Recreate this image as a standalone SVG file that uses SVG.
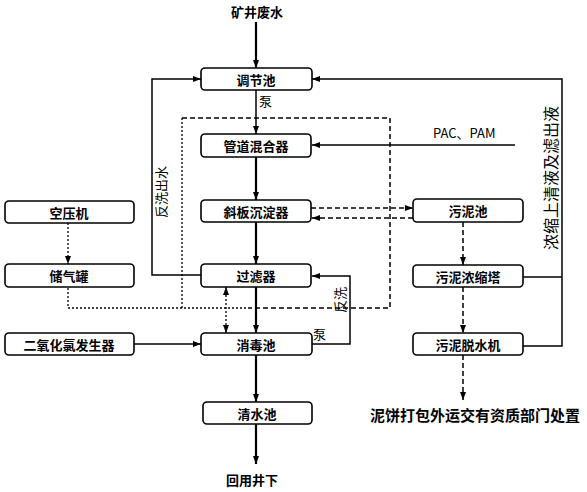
<svg xmlns="http://www.w3.org/2000/svg" width="587" height="492" viewBox="0 0 587 492">
<defs>
<marker id="ah" viewBox="0 0 8 6" refX="8" refY="3" markerWidth="8" markerHeight="6" markerUnits="userSpaceOnUse" orient="auto-start-reverse">
<path d="M0,0 L8,3 L0,6 z" fill="#000"/>
</marker>
<style>
.box{fill:#fff;stroke:#000;stroke-width:1.6}
.lbl{font-family:"Noto Sans CJK SC","Noto Sans",sans-serif;font-size:13px;font-weight:bold;text-anchor:middle;dominant-baseline:central;fill:#000}
.txt{font-family:"Noto Sans CJK SC","Noto Sans",sans-serif;font-size:13px;fill:#000}
.thick{fill:none;stroke:#000;stroke-width:2.2}
.solid{fill:none;stroke:#000;stroke-width:1.5}
.dash{fill:none;stroke:#000;stroke-width:1.5;stroke-dasharray:5,3}
.dot{fill:none;stroke:#000;stroke-width:1.3;stroke-dasharray:2,2}
</style>
</defs>
<rect width="587" height="492" fill="#fff"/>

<g id="connectors">
<line class="thick" x1="256" y1="22" x2="256" y2="68" marker-end="url(#ah)"/>
<line class="solid" x1="256" y1="90" x2="256" y2="134" marker-end="url(#ah)"/>
<line class="thick" x1="256" y1="157" x2="256" y2="200" marker-end="url(#ah)"/>
<line class="thick" x1="256" y1="222" x2="256" y2="264" marker-end="url(#ah)"/>
<line class="thick" x1="256" y1="287" x2="256" y2="333" marker-end="url(#ah)"/>
<line class="thick" x1="256" y1="355" x2="256" y2="402" marker-end="url(#ah)"/>
<line class="thick" x1="256" y1="424" x2="256" y2="464" marker-end="url(#ah)"/>
<polyline class="solid" points="201,275 152,275 152,79 201,79" marker-end="url(#ah)"/>
<polyline class="solid" points="523,277 562,277"/>
<polyline class="solid" points="523,346 562,346 562,79 312,79" marker-end="url(#ah)"/>
<line class="solid" x1="515" y1="145" x2="312" y2="145" marker-end="url(#ah)"/>
<line class="dash" x1="311" y1="208" x2="413" y2="208" marker-end="url(#ah)"/>
<line class="dash" x1="413" y1="218" x2="312" y2="218" marker-end="url(#ah)"/>
<polyline class="dash" points="182,118 390,118 390,308 250,308"/>
<polyline class="dot" points="250,308 68,308 68,287"/>
<line class="dot" x1="182" y1="118" x2="182" y2="308"/>
<line class="dot" x1="68" y1="223" x2="68" y2="264" marker-end="url(#ah)"/>
<line class="dot" x1="226" y1="287" x2="226" y2="333" marker-start="url(#ah)" marker-end="url(#ah)"/>
<line class="solid" x1="134" y1="344" x2="201" y2="344" marker-end="url(#ah)"/>
<polyline class="solid" points="312,344 350,344 350,276 312,276" marker-end="url(#ah)"/>
<line class="dash" x1="463" y1="222" x2="463" y2="265" marker-end="url(#ah)"/>
<line class="dash" x1="463" y1="287" x2="463" y2="333" marker-end="url(#ah)"/>
<line class="dash" x1="463" y1="355" x2="463" y2="400" marker-end="url(#ah)"/>
</g>

<g id="labels">
<text class="txt" x="257" y="17" text-anchor="middle" style="font-weight:bold">矿井废水</text>
<text class="txt" x="259" y="106">泵</text>
<text class="txt" x="433" y="138">PAC、PAM</text>
<text class="txt" transform="translate(166,192) rotate(-90)" text-anchor="middle">反洗出水</text>
<text class="txt" transform="translate(557,178) rotate(-90)" text-anchor="middle" style="font-size:16px">浓缩上清液及滤出液</text>
<text class="txt" x="313" y="339">泵</text>
<text class="txt" transform="translate(345,300) rotate(-90)" text-anchor="middle">反洗</text>
<text class="txt" x="475" y="421" text-anchor="middle" style="font-size:15px;font-weight:bold">泥饼打包外运交有资质部门处置</text>
<text class="txt" x="252" y="485" text-anchor="middle" style="font-weight:bold">回用井下</text>
</g>

<g id="n-tiaojie"><rect class="box" x="201" y="68" width="111" height="22" rx="4"/><text class="lbl" x="256" y="79">调节池</text></g>
<g id="n-guandao"><rect class="box" x="201" y="134" width="110" height="23" rx="4"/><text class="lbl" x="256" y="145.5">管道混合器</text></g>
<g id="n-xieban"><rect class="box" x="201" y="200" width="110" height="22" rx="4"/><text class="lbl" x="256" y="211">斜板沉淀器</text></g>
<g id="n-guolv"><rect class="box" x="201" y="264" width="110" height="23" rx="4"/><text class="lbl" x="256" y="275.5">过滤器</text></g>
<g id="n-xiaodu"><rect class="box" x="201" y="333" width="111" height="22" rx="4"/><text class="lbl" x="256" y="344">消毒池</text></g>
<g id="n-qingshui"><rect class="box" x="203" y="402" width="109" height="22" rx="4"/><text class="lbl" x="257" y="413">清水池</text></g>
<g id="n-kongya"><rect class="box" x="5" y="201" width="129" height="22" rx="4"/><text class="lbl" x="69" y="212">空压机</text></g>
<g id="n-chuqi"><rect class="box" x="5" y="264" width="129" height="23" rx="4"/><text class="lbl" x="69" y="275.5">储气罐</text></g>
<g id="n-clo2"><rect class="box" x="5" y="333" width="129" height="22" rx="4"/><text class="lbl" x="69" y="344">二氧化氯发生器</text></g>
<g id="n-wunichi"><rect class="box" x="413" y="199" width="110" height="23" rx="4"/><text class="lbl" x="468" y="210.5">污泥池</text></g>
<g id="n-nongsuo"><rect class="box" x="413" y="265" width="110" height="22" rx="4"/><text class="lbl" x="468" y="276">污泥浓缩塔</text></g>
<g id="n-tuoshui"><rect class="box" x="413" y="333" width="110" height="22" rx="4"/><text class="lbl" x="468" y="344">污泥脱水机</text></g>
</svg>
